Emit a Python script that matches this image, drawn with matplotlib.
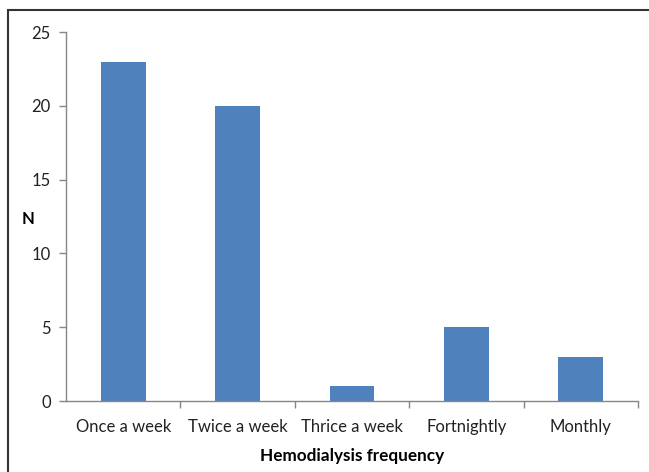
import matplotlib
matplotlib.use("Agg")
import matplotlib.pyplot as plt
from matplotlib.patches import Rectangle

categories = ["Once a week", "Twice a week", "Thrice a week", "Fortnightly", "Monthly"]
counts = [23, 20, 1, 5, 3]
y_ticks = [0, 5, 10, 15, 20, 25]

plt.rcParams["font.family"] = ["Lato", "DejaVu Sans"]

fig = plt.figure(figsize=(6.49, 4.72), dpi=100)
ax = fig.add_axes([0.1017, 0.1504, 0.8813, 0.7816])

x = list(range(len(categories)))
ax.bar(x, counts, width=0.39, color="#4F81BD", zorder=2)

ax.set_xlim(-0.5, len(categories) - 0.5)
ax.set_ylim(0, 25)
ax.set_yticks(y_ticks)
ax.set_yticklabels([str(v) for v in y_ticks], fontsize=12, color="#222222")

# category labels centred under bars, tick marks at category boundaries
ax.set_xticks(x)
ax.set_xticklabels(categories, fontsize=12, color="#222222")
ax.tick_params(axis="x", length=0, pad=13)
ax.set_xticks([i + 0.5 for i in range(len(categories))], minor=True)
ax.tick_params(axis="x", which="minor", length=5, color="#868686", width=1)
ax.tick_params(axis="y", length=5, color="#868686", width=1, pad=6)

for side in ["top", "right"]:
    ax.spines[side].set_visible(False)
for side in ["left", "bottom"]:
    ax.spines[side].set_color("#868686")
    ax.spines[side].set_linewidth(1)

ax.set_xlabel("Hemodialysis frequency", fontsize=12.3, fontweight="bold", labelpad=9)
fig.text(28.5 / 649, 1 - 219 / 472, "N", fontsize=12, fontweight="bold", ha="center", va="center")

# outer frame
fig.patches.append(Rectangle((8 / 649, -0.1), 1.2, 1 - 10 / 472 + 0.1, transform=fig.transFigure,
                             fill=False, edgecolor="#333333", linewidth=1.5))

fig.savefig("out.png", dpi=100)
